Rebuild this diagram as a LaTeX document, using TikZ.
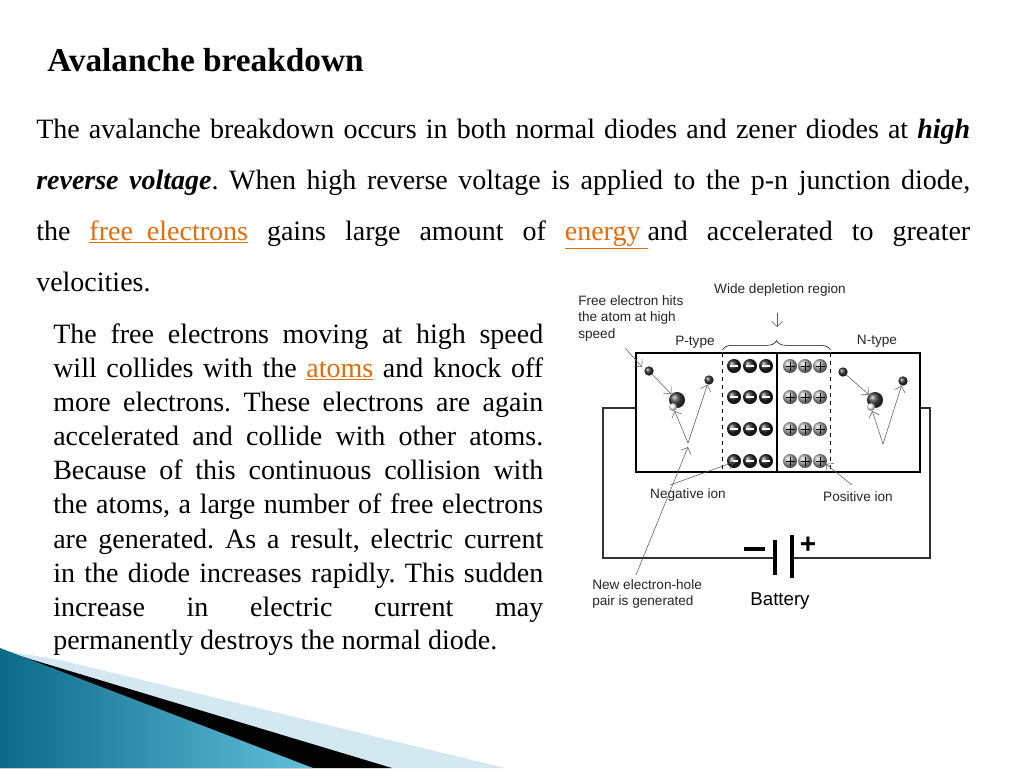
\documentclass[tikz,border=0pt]{standalone}
\usepackage{fontspec}
\setmainfont{Liberation Serif}
\newfontfamily\labelfont{Liberation Sans}
\usetikzlibrary{arrows.meta,decorations.pathreplacing,shadings}
\definecolor{linkorange}{HTML}{E46C0A}
\definecolor{tealdark}{HTML}{0B6A87}
\definecolor{teallight}{HTML}{62C0DD}
\definecolor{palebar}{HTML}{D4E8F1}
\frenchspacing
\newcommand{\jline}[2]{\hbox to #1{#2}}
\newcommand{\link}[1]{{\color{linkorange}\underline{\hbox{#1}}}}
\tikzset{
    bodytext/.style={anchor=base west,inner sep=0pt,font=\fontsize{21}{25}\selectfont},
    lbl/.style={inner sep=0pt,font=\labelfont\fontsize{10.2}{12.6}\selectfont,align=left,black!85},
    electron/.style={circle,inner sep=0pt,minimum size=7pt,ball color=black!80},
    atom/.style={circle,inner sep=0pt,minimum size=12pt,ball color=black!75},
    hole/.style={circle,inner sep=0pt,minimum size=6pt,ball color=white},
    negion/.style={circle,inner sep=0pt,minimum size=10.5pt,ball color=black!85},
    posion/.style={circle,inner sep=0pt,minimum size=10.5pt,ball color=black!30},
    pointer/.style={-{Straight Barb[length=4pt]},black!65,thin},
    wire/.style={line width=1.2pt,black!80},
}
\begin{document}
\begin{tikzpicture}[x=0.75pt,y=-0.75pt]
    \useasboundingbox[fill=white] (0,0) rectangle (1024,768);
    % corner decoration
    \fill[palebar] (60,660) -- (505,768) -- (0,768) -- (0,650) -- cycle;
    \fill[black] (0,650) -- (392,768) -- (0,768) -- cycle;
    \shade[left color=tealdark,right color=teallight] (0,648) -- (313,768) -- (0,768) -- cycle;

    % text
    \node[bodytext,font=\fontsize{25}{30}\selectfont\bfseries] (title) at (47,71) {Avalanche breakdown};
    \node[bodytext] (p1) at (36,138) {\jline{700.5pt}{The avalanche breakdown occurs in both normal diodes and zener diodes at \textbf{\textit{high}}}};
    \node[bodytext] (p2) at (36,189) {\jline{700.5pt}{\textbf{\textit{reverse voltage}}. When high reverse voltage is applied to the p-n junction diode,}};
    \node[bodytext] (p3) at (36,240) {\jline{700.5pt}{the \link{free\ \ electrons} gains large amount of \link{energy\ }and accelerated to greater}};
    \node[bodytext] (p4) at (36,291) {velocities.};

    \node[bodytext] (q1) at (53,343) {\jline{367.5pt}{The free electrons moving at high speed}};
    \node[bodytext] (q2) at (53,377) {\jline{367.5pt}{will collides with the \link{atoms} and knock off}};
    \node[bodytext] (q3) at (53,411) {\jline{367.5pt}{more electrons. These electrons are again}};
    \node[bodytext] (q4) at (53,445) {\jline{367.5pt}{accelerated and collide with other atoms.}};
    \node[bodytext] (q5) at (53,479) {\jline{367.5pt}{Because of this continuous collision with}};
    \node[bodytext] (q6) at (53,513) {\jline{367.5pt}{the atoms, a large number of free electrons}};
    \node[bodytext] (q7) at (53,548) {\jline{367.5pt}{are generated. As a result, electric current}};
    \node[bodytext] (q8) at (53,582) {\jline{367.5pt}{in the diode increases rapidly. This sudden}};
    \node[bodytext] (q9) at (53,616) {\jline{367.5pt}{increase in electric current may}};
    \node[bodytext] (q10) at (53,649) {permanently destroys the normal diode.};

    % diode and circuit
    \coordinate (bl) at (636,353);
    \coordinate (br) at (920,472);
    \draw[wire] (636,408) -- (603,408) -- (603,558) -- (775,558);
    \draw[wire] (792,558) -- (930,558) -- (930,408) -- (920,408);
    \draw[line width=2.4pt] (775,540) -- (775,575);
    \draw[line width=2.4pt] (792,535) -- (792,578);
    \draw[line width=2.6pt] (744,549) -- (765,549);
    \node[font=\labelfont\bfseries\fontsize{21}{21}\selectfont] (plus) at (808,545) {+};
    \node[font=\labelfont\fontsize{14}{15}\selectfont] (battery) at (780,601) {Battery};
    \draw[line width=1.4pt,fill=white] (bl) rectangle (br);
    \draw[line width=1.2pt] (777,353) -- (777,472);
    \draw[dashed,thick] (722.5,353) -- (722.5,472);
    \draw[dashed,thick] (830.5,353) -- (830.5,472);
    \draw[decorate,decoration={brace,amplitude=7pt},thin] (722.5,350) -- (830.5,350);
    \draw[pointer] (777,313) -- (777,327);

    % ions
    \foreach \y in {366,397,429,461}{
        \foreach \x in {734,750,766}{
            \node[negion] at (\x,\y) {};
            \draw[white,line width=1pt] (\x-4,\y) -- (\x+4,\y);
        }
        \foreach \x in {790,805,820}{
            \node[posion] at (\x,\y) {};
            \draw[black,line width=0.7pt] (\x-4.5,\y) -- (\x+4.5,\y) (\x,\y-4.5) -- (\x,\y+4.5);
        }
    }

    % p side collision
    \node[electron] (pe1) at (649,371) {};
    \node[atom] (patom) at (677,400) {};
    \node[hole] (phole) at (673,407) {};
    \node[electron] (pe2) at (709,380) {};
    \coordinate (pv) at (688,443);
    \draw[pointer] (pe1) -- (patom);
    \draw[pointer] (pv) -- (phole);
    \draw[pointer] (pv) -- (pe2);
    % n side collision
    \node[electron] (ne1) at (843,372) {};
    \node[atom] (natom) at (875,400) {};
    \node[hole] (nhole) at (871,407) {};
    \node[electron] (ne2) at (903,381) {};
    \coordinate (nv) at (883,444);
    \draw[pointer] (ne1) -- (natom);
    \draw[pointer] (nv) -- (nhole);
    \draw[pointer] (nv) -- (ne2);

    % labels
    \node[lbl,anchor=south] (wide) at (780,297) {Wide depletion region};
    \node[lbl,anchor=north west] (hits) at (578,295) {Free electron hits\\the atom at high\\speed};
    \node[lbl] (ptype) at (695,342) {P-type};
    \node[lbl] (ntype) at (877,341) {N-type};
    \node[lbl] (neg) at (688,495) {Negative ion};
    \node[lbl] (pos) at (858,497) {Positive ion};
    \node[lbl,anchor=north west] (pair) at (592,579) {New electron-hole\\pair is generated};
    \draw[pointer] (625,348) -- (642,367);
    \draw[pointer] (670,485) -- (734,462);
    \draw[pointer] (852,485) -- (826,464);
    \draw[pointer] (636,575) -- (688,447);
\end{tikzpicture}
\end{document}
